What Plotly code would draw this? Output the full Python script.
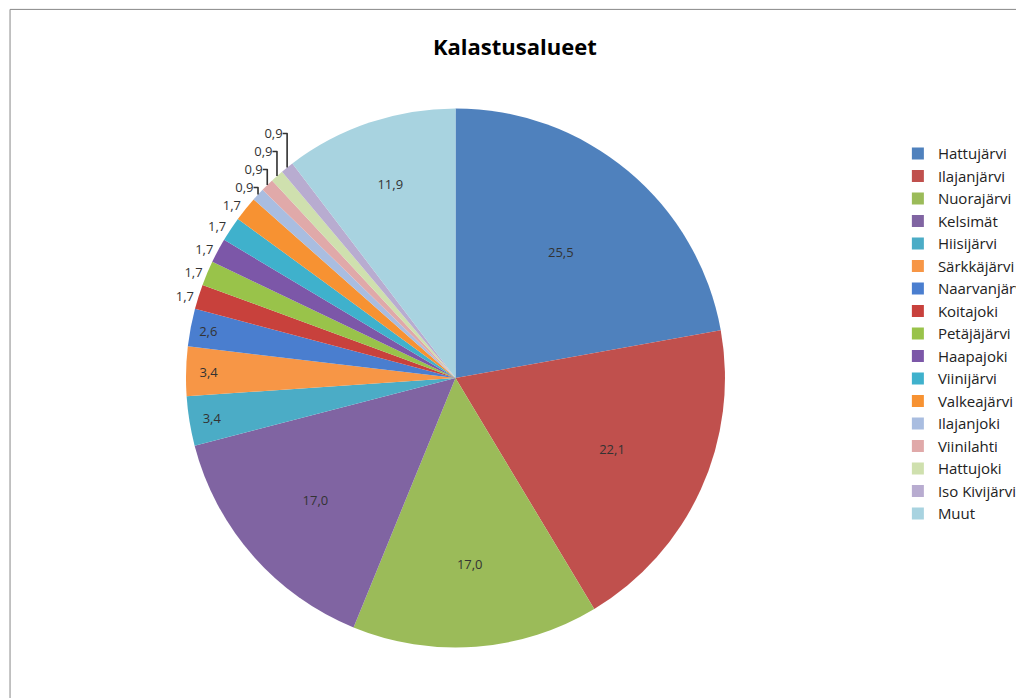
import plotly.graph_objects as go

labels = ["Hattujärvi","Ilajanjärvi","Nuorajärvi","Kelsimät","Hiisijärvi","Särkkäjärvi",
          "Naarvanjärvi","Koitajoki","Petäjäjärvi","Haapajoki","Viinijärvi","Valkeajärvi",
          "Ilajanjoki","Viinilahti","Hattujoki","Iso Kivijärvi","Muut"]
values = [25.5,22.1,17.0,17.0,3.4,3.4,2.6,1.7,1.7,1.7,1.7,1.7,0.9,0.9,0.9,0.9,11.9]
text_labels = [f"{v:.1f}".replace(".", ",") for v in values]
colors = ["#4F81BD","#C0504D","#9BBB59","#8064A2","#4BACC6","#F79646",
          "#4A7ECF","#C8413C","#99C34A","#7C57A8","#3FB1CC","#F79232",
          "#A9BDE0","#E0A9A9","#CFE0AE","#B8ACD0","#A8D3E0"]
positions = ["inside"]*7 + ["outside"]*9 + ["inside"]

fig = go.Figure(go.Pie(
    labels=labels, values=values, text=text_labels, textinfo="text",
    textposition=positions, insidetextorientation="horizontal",
    sort=False, direction="clockwise", rotation=0,
    marker=dict(colors=colors, line=dict(color="white", width=0)),
    textfont=dict(family="Open Sans", size=13, color="#333"),
    domain=dict(x=[0.175, 0.705], y=[0.08, 0.86]),
    hoverinfo="label+value",
))
fig.update_layout(
    width=1024, height=698, paper_bgcolor="white",
    margin=dict(l=0, r=0, t=0, b=0),
    title=dict(text="<b>Kalastusalueet</b>", x=0.495, y=0.955, xanchor="center",
               font=dict(family="Open Sans", size=22, color="black")),
    legend=dict(x=0.875, y=0.815, xanchor="left", yanchor="top",
                font=dict(family="Open Sans", size=15, color="#222"),
                itemwidth=30),
    shapes=[dict(type="rect", xref="paper", yref="paper", x0=0.002, y0=0.002, x1=0.998, y1=0.998,
                 line=dict(color="#888", width=1))],
)
fig.write_html("out.html")
